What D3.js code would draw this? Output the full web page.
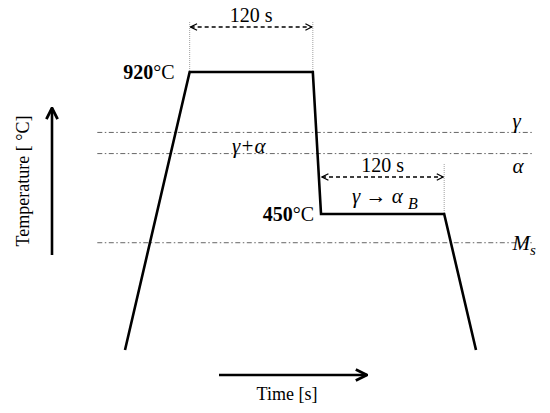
<!DOCTYPE html>
<html>
<head>
<meta charset="utf-8">
<script src="https://cdn.jsdelivr.net/npm/d3@7"></script>
<style>
body{margin:0;background:#fff;}
text{font-family:"Liberation Serif","Times New Roman",serif;fill:#000;}
.greek{font-style:italic;}
</style>
</head>
<body>
<svg id="chart"></svg>
<script>
var width=550, height=413;

// heat treatment schedule (time in s, temperature in C)
var times=[0, 63, 183, 191, 311, 342];
var temps=[0, 920, 920, 450, 450, 0];

// phase boundaries
var phaseNames=["γ", "α", "M"];
var phaseSubs=["", "", "s"];
var phaseTemps=[720, 650, 355];
var phaseSpan=[-27, 397];

// isothermal holds
var holdLabels=["120 s", "120 s"];
var holdStart=[63, 191];
var holdEnd=[183, 311];
var holdTemps=[920, 450];

var svg=d3.select("#chart")
    .attr("width",width)
    .attr("height",height);

var x=d3.scaleLinear().domain([0,342]).range([125,476]);
var y=d3.scaleLinear().domain([0,920]).range([350,72]);

var defs=svg.append("defs");
defs.append("marker")
    .attr("id","head")
    .attr("viewBox","0 0 10 10")
    .attr("refX",9).attr("refY",5)
    .attr("markerWidth",8).attr("markerHeight",8)
    .attr("markerUnits","userSpaceOnUse")
    .attr("orient","auto-start-reverse")
    .append("path")
    .attr("d","M1,1 L9,5 L1,9")
    .attr("fill","none")
    .attr("stroke","#000")
    .attr("stroke-width",1.6);
defs.append("marker")
    .attr("id","bighead")
    .attr("viewBox","0 0 10 10")
    .attr("refX",9).attr("refY",5)
    .attr("markerWidth",14).attr("markerHeight",14)
    .attr("markerUnits","userSpaceOnUse")
    .attr("orient","auto")
    .append("path")
    .attr("d","M1,1 L9,5 L1,9")
    .attr("fill","none")
    .attr("stroke","#000")
    .attr("stroke-width",2);

// phase lines
svg.append("g").selectAll("line")
    .data(phaseTemps)
    .enter().append("line")
    .attr("x1",x(phaseSpan[0]))
    .attr("x2",x(phaseSpan[1]))
    .attr("y1",function(d){return y(d);})
    .attr("y2",function(d){return y(d);})
    .attr("stroke","#666")
    .attr("stroke-width",1)
    .attr("stroke-dasharray","5,2.5,1.5,2.5");

// phase labels
var pl=svg.append("g").selectAll("text")
    .data(phaseNames)
    .enter().append("text")
    .attr("class","greek")
    .attr("x",x(phaseSpan[1])-20)
    .attr("y",function(d,i){return i==0 ? y(phaseTemps[i])-4 : y(phaseTemps[i])+(i==1?19:7);})
    .style("font-size","21px");
pl.append("tspan").text(function(d){return d;});
pl.append("tspan")
    .attr("dy",5)
    .style("font-size","15px")
    .text(function(d,i){return phaseSubs[i];});

svg.append("text")
    .attr("class","greek")
    .attr("x",232)
    .attr("y",y((phaseTemps[0]+phaseTemps[1])/2)+10)
    .style("font-size","21px")
    .text("γ+α");

// hold guides and dimension arrows
var guideTop=[22, 164];
holdStart.forEach(function(s,i){
    var ay=i==0 ? 27 : 177;
    var ends=i==0 ? [s, holdEnd[i]] : [holdEnd[i]];
    ends.forEach(function(t){
        svg.append("line")
            .attr("x1",x(t)).attr("x2",x(t))
            .attr("y1",guideTop[i]).attr("y2",y(holdTemps[i]))
            .attr("stroke","#888")
            .attr("stroke-width",0.8)
            .attr("stroke-dasharray","1,1");
    });
    svg.append("line")
        .attr("x1",x(s)+1).attr("x2",x(holdEnd[i])-1)
        .attr("y1",ay).attr("y2",ay)
        .attr("stroke","#000")
        .attr("stroke-width",1.5)
        .attr("stroke-dasharray","4,3")
        .attr("marker-start","url(#head)")
        .attr("marker-end","url(#head)");
    svg.append("text")
        .attr("x",(x(s)+x(holdEnd[i]))/2)
        .attr("y",ay-5)
        .attr("text-anchor","middle")
        .style("font-size","20px")
        .text(holdLabels[i]);
});

// temperature labels
holdStart.forEach(function(s,i){
    var t=svg.append("text")
        .attr("x",x(s)-15+(i==1?8:0))
        .attr("y",y(holdTemps[i])+7)
        .attr("text-anchor","end")
        .style("font-size","20px");
    t.append("tspan").style("font-weight","bold").text(holdTemps[i]);
    t.append("tspan").text("°C");
});

svg.append("text")
    .attr("class","greek")
    .attr("x",352)
    .attr("y",y(450)-11)
    .style("font-size","21px")
    .text("γ → α ")
    .append("tspan")
    .attr("dy",6)
    .style("font-size","16px")
    .text("B");

// schedule path
var line=d3.line()
    .x(function(d){return x(d[0]);})
    .y(function(d){return y(d[1]);});
svg.append("path")
    .datum(d3.zip(times,temps))
    .attr("d",line)
    .attr("fill","none")
    .attr("stroke","#000")
    .attr("stroke-width",2.6)
    .attr("stroke-linejoin","miter");

// axis arrows
svg.append("line")
    .attr("x1",52).attr("x2",52)
    .attr("y1",255).attr("y2",108)
    .attr("stroke","#000").attr("stroke-width",2.6)
    .attr("marker-end","url(#bighead)");
svg.append("line")
    .attr("x1",219).attr("x2",367)
    .attr("y1",375).attr("y2",375)
    .attr("stroke","#000").attr("stroke-width",2.6)
    .attr("marker-end","url(#bighead)");

svg.append("text")
    .attr("transform","translate(29,181) rotate(-90)")
    .attr("text-anchor","middle")
    .style("font-size","18px")
    .text("Temperature [ °C]");
svg.append("text")
    .attr("x",287)
    .attr("y",400)
    .attr("text-anchor","middle")
    .style("font-size","18px")
    .text("Time [s]");
</script>
</body>
</html>
